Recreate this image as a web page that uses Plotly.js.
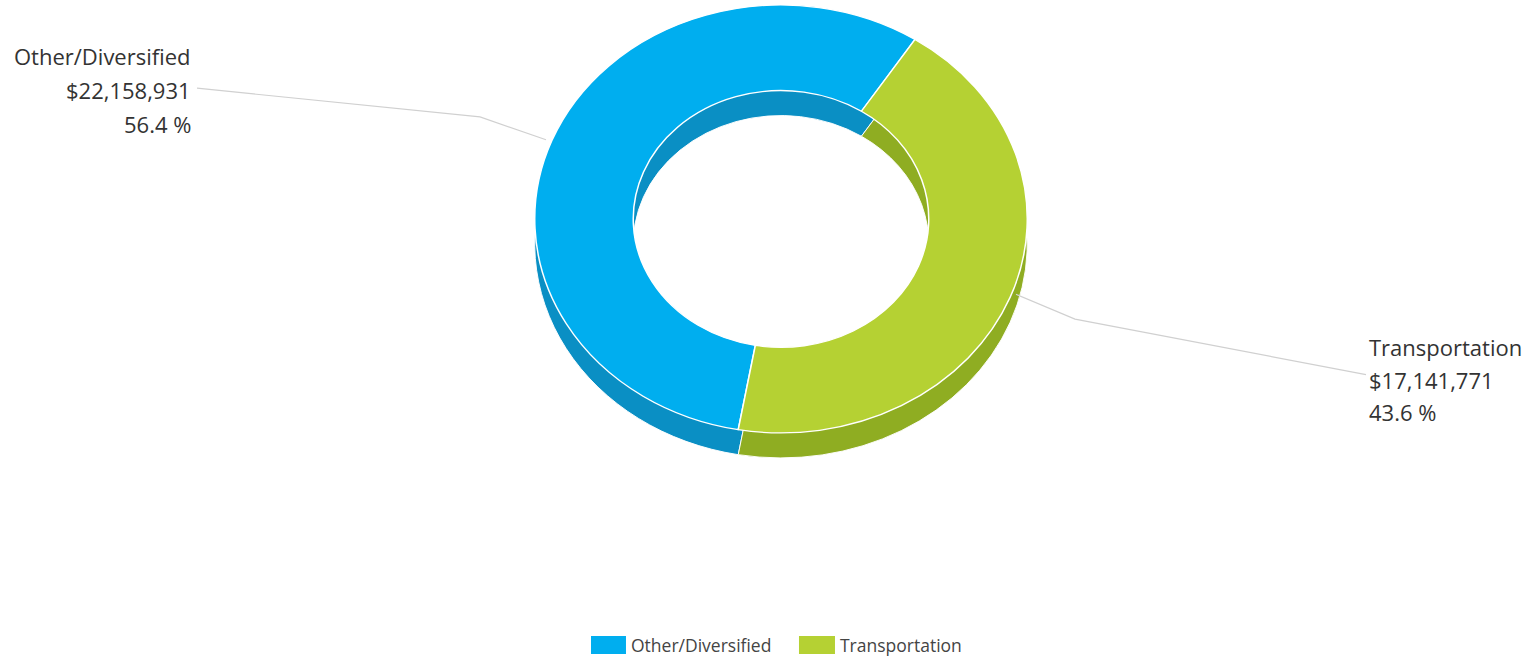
<!DOCTYPE html>
<html>
<head>
<meta charset="utf-8">
<script src="https://cdn.plot.ly/plotly-3.0.1.min.js"></script>
<style>html,body{margin:0;padding:0;background:#fff;}#chart{width:1534px;height:663px;}</style>
</head>
<body>
<div id="chart"></div>
<script>
const categories = ["Other/Diversified", "Transportation"];
const amounts = [22158931, 17141771];
const topColors = ["#00aeef", "#b5d133"];
const sideColors = ["#0a8fc4", "#8fad22"];

const W = 1534, H = 663;
const px = (x) => x / W;
const py = (y) => 1 - y / H;

const total = amounts.reduce((a, b) => a + b, 0);
const fmt = (v) => "$" + v.toLocaleString("en-US");
const pct = (v) => (v / total * 100).toFixed(1) + " %";

// geometry (pre-squash); the pie layer is squashed vertically to look tilted
const cx = 781, r = 248.5, cyPre = 260, depthPre = 29;
const squash = 0.869, cyFinal = 221;
function dom(cy) {
  return { x: [px(cx - r), px(cx + r)], y: [py(cy + r), py(cy - r)] };
}

const base = {
  type: "pie",
  labels: categories,
  values: amounts,
  hole: 0.6,
  sort: false,
  direction: "clockwise",
  rotation: 190,
  textinfo: "none",
  hoverinfo: "label+value+percent"
};

const traces = [
  Object.assign({}, base, {
    domain: dom(cyPre + depthPre),
    marker: { colors: sideColors, line: { color: "#ffffff", width: 1 } },
    showlegend: false
  }),
  Object.assign({}, base, {
    domain: dom(cyPre),
    marker: { colors: topColors, line: { color: "#ffffff", width: 1.5 } },
    showlegend: true
  })
];

const labelFont = { family: "Open Sans, Lato, sans-serif", size: 22, color: "#333333" };
const annotations = [];
function addBlock(i, xPix, anchor, yPixs) {
  const lines = [categories[i], fmt(amounts[i]), pct(amounts[i])];
  lines.forEach((t, k) => annotations.push({
    xref: "paper", yref: "paper", x: px(xPix), y: py(yPixs[k]),
    xanchor: anchor, yanchor: "middle", text: t, showarrow: false, font: labelFont
  }));
}
addBlock(0, 193, "right", [57, 91, 125]);
addBlock(1, 1367, "left", [350, 383, 416]);

function pathOf(pts) {
  return pts.map((p, k) => (k ? "L" : "M") + px(p[0]).toFixed(5) + "," + py(p[1]).toFixed(5)).join(" ");
}
const shapes = [
  { type: "path", xref: "paper", yref: "paper", path: pathOf([[197, 89], [480, 118], [546, 141]]), line: { color: "#d0d0d0", width: 1.2 } },
  { type: "path", xref: "paper", yref: "paper", path: pathOf([[1016, 297], [1075, 322], [1366, 378]]), line: { color: "#d0d0d0", width: 1.2 } }
];

const layout = {
  width: W, height: H,
  margin: { l: 0, r: 0, t: 0, b: 0 },
  paper_bgcolor: "#ffffff",
  showlegend: true,
  legend: {
    orientation: "h", x: 0.5215, xanchor: "center", y: py(651), yanchor: "middle",
    font: { family: "Open Sans, Lato, sans-serif", size: 17.5, color: "#444444" },
    itemsizing: "constant", entrywidth: 164, entrywidthmode: "pixels"
  },
  annotations: annotations,
  shapes: shapes
};

Plotly.newPlot("chart", traces, layout, { displayModeBar: false, staticPlot: true }).then(() => {
  const pl = document.querySelector("#chart .pielayer");
  if (pl) pl.setAttribute("transform", "translate(0," + (cyFinal - cyPre * squash) + ") scale(1," + squash + ")");
  document.querySelectorAll("#chart .legend path.legendpie").forEach((p) => {
    p.setAttribute("d", "M16,10H-22V-10H16Z");
  });
});
</script>
</body>
</html>
